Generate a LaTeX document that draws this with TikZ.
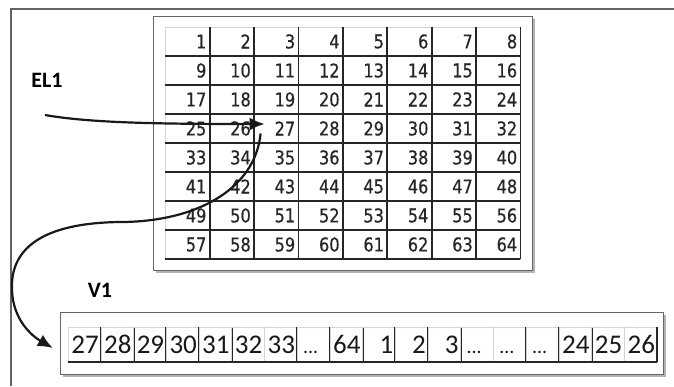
\documentclass[tikz,border=0pt]{standalone}
\usepackage{fontspec}
\setmainfont{Carlito}
\newfontfamily\gridfont[FakeStretch=0.85, FakeBold=0.6]{DejaVu Sans}
\usetikzlibrary{arrows.meta, calc, shadows}
\definecolor{cellline}{RGB}{205,215,225}
\definecolor{framegray}{RGB}{100,100,100}
\tikzset{
  panel/.style={
    draw=black!60, fill=white, line width=1pt, inner sep=0pt,
    drop shadow={shadow xshift=3pt, shadow yshift=-3pt, opacity=.6}
  },
  gridcell/.style={
    draw=cellline, rectangle,
    minimum width=44.4pt, minimum height=29pt,
    text width=38.4pt, inner xsep=3pt, inner ysep=0pt,
    align=right, font=\gridfont\fontsize{19}{19}\selectfont, text=black!85
  },
  veccell/.style={
    draw=cellline, rectangle,
    minimum width=32.7pt, minimum height=35pt,
    text width=28.7pt, text height=17pt, text depth=0pt,
    inner xsep=2pt, inner ysep=0pt,
    font=\fontsize{27}{27}\selectfont, text=black!90
  },
  cellrule/.style={draw=black!85, line width=1.8pt},
  labeltext/.style={font=\bfseries\fontsize{22}{22}\selectfont},
  maparrow/.style={
    -{Latex[length=15pt,width=13pt]}, line width=2.2pt, draw=black!90
  },
  frameline/.style={draw=framegray, line width=1.5pt}
}
\newcommand{\gap}{{\hspace*{4pt}\fontsize{20}{20}\selectfont ...}}

\begin{document}
\begin{tikzpicture}[x=1pt, y=-1pt]
  \useasboundingbox (0,0) rectangle (674,386);
  % outer frame
  \draw[frameline] (11,386) -- (11,9) -- (674,9);
  % 8x8 grid
  \node[panel, minimum width=379pt, minimum height=254pt] (gridbox) at (342.5,143) {};
  \foreach \r in {0,...,7}{
    \foreach \c in {0,...,7}{
      \pgfmathtruncatemacro{\n}{8*\r+\c+1}
      \node[gridcell] (g\n) at ({165+44.4*(\c+0.5)}, {27+29*(\r+0.5)}) {\n};
    }
  }
  \foreach \r in {1,...,8}{
    \pgfmathtruncatemacro{\a}{8*\r-7}
    \pgfmathtruncatemacro{\b}{8*\r}
    \draw[cellrule] (g\a.south west) -- (g\b.south east);
  }
  \foreach \c in {1,...,8}{
    \pgfmathtruncatemacro{\d}{56+\c}
    \draw[cellrule] (g\c.north east) -- (g\d.south east);
  }
  % vector
  \node[panel, minimum width=603pt, minimum height=62pt] (vecbox) at (361.5,343) {};
  \foreach \t/\al [count=\i] in {27/right, 28/right, 29/right, 30/right, 31/right,
      32/right, 33/right, \gap/left, 64/right, 1/right, 2/right, 3/right,
      \gap/left, \gap/left, \gap/left, 24/right, 25/right, 26/right}{
    \node[veccell, align=\al] (vc\i) at ({68+32.72*(\i-0.5)}, 344.5) {\t};
    \draw[cellrule] (vc\i.north east) -- (vc\i.south east);
  }
  \draw[cellrule] (vc1.south west) -- (vc18.south east);
  % labels
  \node[labeltext] (el1) at (47,80) {EL1};
  \node[labeltext] (vlabel) at (100,290) {V1};
  % arrows
  \coordinate (elstart) at (45,115);
  \coordinate (hit) at ($(g27.west)+(11,-4.5)$);
  \coordinate (pick) at ($(g27.west)+(7,5)$);
  \coordinate (land) at ($(vc1.west)+(-15,3.5)$);
  \draw[maparrow] (elstart) .. controls (90,123) and (160,124) .. (hit);
  \draw[maparrow] (pick) .. controls (255,190) and (195,222) .. (120,222)
    .. controls (40,223) and (10,250) .. (12,290)
    .. controls (13,320) and (32,336) .. (land);
\end{tikzpicture}
\end{document}
